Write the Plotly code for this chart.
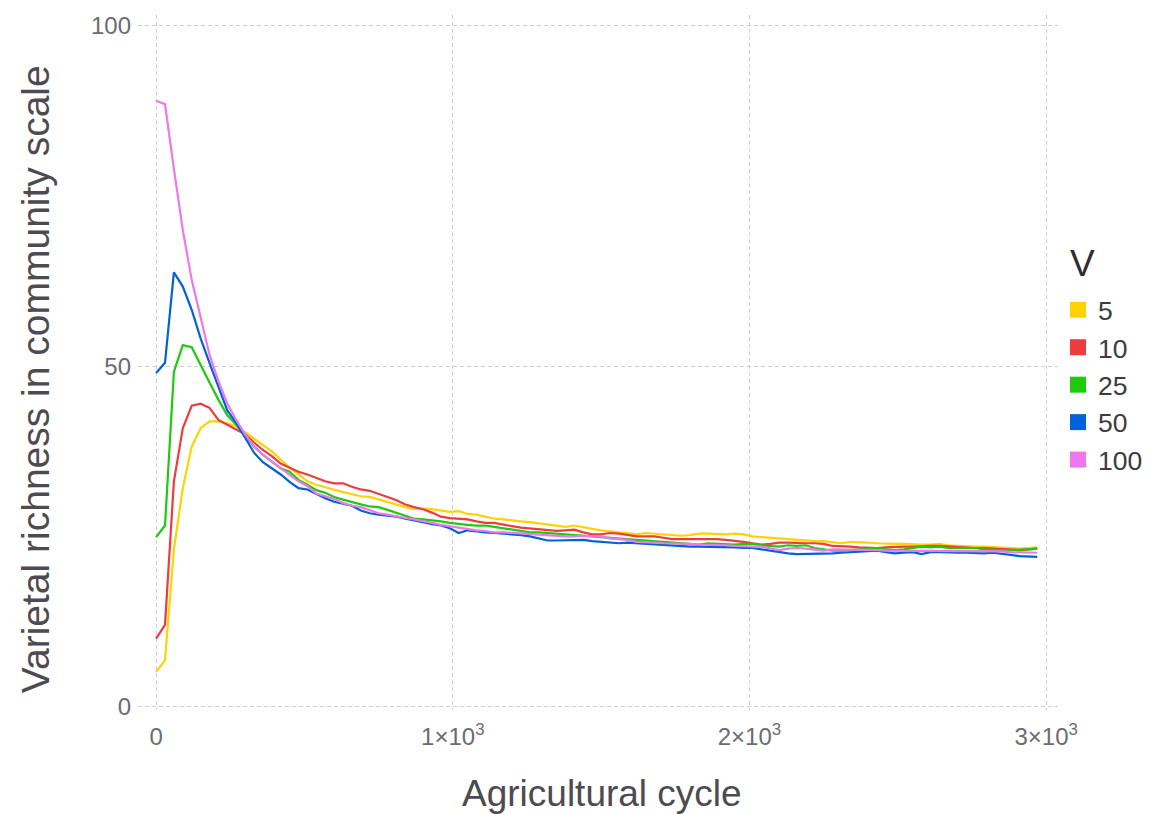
import plotly.graph_objects as go

cycles = [30 * i for i in range(100)]

v_labels = ["5", "10", "25", "50", "100"]

rich_v5 = [5.1, 6.8, 23.1, 32.1, 38.2, 40.9, 41.9, 41.9, 41.6,
           41.2, 40.3, 39.4, 38.5, 37.5, 36.3, 35.1, 34.1, 33.1, 32.6, 32.2, 31.9, 31.5, 31.2, 30.9, 30.8, 30.4, 30.0, 29.7, 29.3, 29.0, 29.1,
           29.0, 28.8, 28.6, 28.7, 28.3, 28.2, 27.9, 27.6, 27.5, 27.3, 27.2, 27.1, 26.9, 26.7, 26.5, 26.4, 26.6, 26.3, 26.1, 25.9, 25.7, 25.6, 25.5,
           25.3, 25.5, 25.4, 25.3, 25.2, 25.1, 25.2, 25.4, 25.4, 25.3, 25.3, 25.4, 25.3, 25.0, 24.9, 24.8, 24.6, 24.6, 24.5, 24.4, 24.3, 24.3,
           24.1, 24.0, 24.2, 24.2, 24.1, 24.0, 23.9, 23.9, 23.9, 23.8, 23.8, 23.8, 23.9, 23.7, 23.6, 23.6, 23.5, 23.5, 23.4, 23.4, 23.3, 23.2, 23.3, 23.4]

rich_v10 = [10.0, 12.0, 33.1, 40.9, 44.2, 44.5, 43.9, 42.1, 41.4,
            40.7, 40.0, 38.8, 37.7, 36.8, 35.7, 35.1, 34.5, 34.1, 33.6, 33.1, 32.8, 32.8, 32.3, 31.9, 31.7, 31.3, 30.8, 30.3, 29.7, 29.3, 29.0,
            28.5, 27.9, 27.7, 27.6, 27.5, 27.2, 27.0, 27.0, 26.7, 26.5, 26.3, 26.2, 26.0, 25.9, 25.8, 25.9, 26.0, 25.6, 25.3, 25.3, 25.5, 25.4, 25.2,
            25.0, 25.0, 25.0, 24.8, 24.6, 24.6, 24.6, 24.6, 24.7, 24.6, 24.5, 24.4, 24.2, 24.0, 23.8, 23.9, 24.1, 24.1, 24.0, 24.0, 24.0, 23.9,
            23.6, 23.6, 23.5, 23.4, 23.3, 23.3, 23.4, 23.5, 23.5, 23.5, 23.6, 23.6, 23.6, 23.5, 23.4, 23.4, 23.3, 23.3, 23.2, 23.2, 23.1, 23.0, 23.1, 23.2]

rich_v25 = [24.9, 26.6, 49.2, 53.1, 52.8, 50.1, 47.6, 45.1, 42.8,
            41.4, 39.7, 38.2, 37.0, 36.0, 35.0, 34.5, 33.3, 32.6, 31.8, 31.4, 30.8, 30.4, 30.0, 29.7, 29.4, 29.3, 28.9, 28.5, 28.0, 27.6, 27.5,
            27.4, 27.2, 27.0, 26.8, 26.7, 26.6, 26.6, 26.4, 26.2, 26.0, 25.8, 25.6, 25.6, 25.5, 25.4, 25.3, 25.3, 25.2, 25.1, 25.0, 24.8, 24.7, 24.6,
            24.6, 24.5, 24.4, 24.3, 24.2, 24.1, 24.0, 23.8, 24.0, 23.9, 23.9, 23.8, 23.9, 23.9, 23.7, 23.6, 23.5, 23.7, 23.6, 23.7, 23.3, 23.1,
            22.9, 22.9, 23.0, 23.1, 23.1, 23.3, 23.1, 23.0, 23.1, 23.3, 23.5, 23.4, 23.5, 23.3, 23.3, 23.3, 23.3, 23.1, 23.0, 23.0, 23.0, 23.0, 23.1, 23.2]

rich_v50 = [49.0, 50.5, 63.8, 61.7, 58.3, 54.1, 50.5, 47.0, 43.5,
            41.7, 39.5, 37.3, 35.9, 35.0, 34.1, 33.0, 32.1, 31.9, 31.2, 30.6, 30.1, 29.8, 29.5, 28.8, 28.4, 28.2, 28.1, 27.9, 27.6, 27.4, 27.1,
            26.8, 26.6, 26.2, 25.5, 25.9, 25.7, 25.6, 25.5, 25.4, 25.4, 25.2, 25.0, 24.7, 24.4, 24.4, 24.4, 24.5, 24.5, 24.3, 24.2, 24.0, 24.0, 24.1,
            24.0, 23.9, 23.9, 23.8, 23.7, 23.6, 23.5, 23.5, 23.5, 23.5, 23.5, 23.4, 23.3, 23.3, 23.1, 22.9, 22.6, 22.5, 22.4, 22.4, 22.4, 22.4,
            22.5, 22.6, 22.7, 22.8, 22.8, 22.9, 22.7, 22.5, 22.6, 22.7, 22.4, 22.7, 22.7, 22.6, 22.6, 22.6, 22.5, 22.5, 22.6, 22.5, 22.3, 22.1, 22.0, 22.0]

rich_v100 = [89.0, 88.5, 79.0, 70.0, 62.7, 57.3, 51.7, 47.8, 44.5,
             42.1, 40.0, 38.2, 37.0, 36.0, 35.0, 34.1, 33.1, 32.4, 31.3, 30.9, 30.5, 29.9, 29.5, 29.3, 28.9, 28.4, 28.2, 27.9, 27.7, 27.5, 27.3,
             27.0, 26.7, 26.5, 26.3, 26.0, 25.9, 25.8, 25.6, 25.6, 25.5, 25.5, 25.4, 25.3, 25.2, 25.1, 25.0, 25.0, 25.1, 25.0, 25.0, 24.7, 24.6, 24.5,
             24.2, 24.2, 24.1, 24.0, 24.0, 23.9, 23.9, 23.8, 23.8, 23.7, 23.7, 23.6, 23.5, 23.5, 23.5, 23.3, 23.0, 23.2, 23.3, 23.2, 23.1, 22.9,
             23.1, 23.1, 23.0, 23.0, 23.0, 23.0, 22.9, 22.9, 22.8, 22.9, 22.9, 22.9, 22.9, 22.9, 22.9, 22.9, 22.9, 22.8, 22.8, 22.8, 22.7, 22.7, 22.6, 22.6]

series = [rich_v5, rich_v10, rich_v25, rich_v50, rich_v100]
colors = ["#FFD300", "#EE3B3B", "#1ECB0C", "#0062D9", "#EE77EE"]

x_tickvals = [0, 1000, 2000, 3000]
x_ticktext = ["0", "1×10<sup>3</sup>", "2×10<sup>3</sup>", "3×10<sup>3</sup>"]
y_tickvals = [0, 50, 100]

fig = go.Figure()

for lab, ys, col in zip(v_labels, series, colors):
    fig.add_trace(go.Scatter(x=cycles, y=ys, mode="lines", name=lab,
                             line=dict(color=col, width=2.2), showlegend=False,
                             legendgroup=lab))

# legend entries drawn as squares
for lab, col in zip(v_labels, colors):
    fig.add_trace(go.Scatter(x=[None], y=[None], mode="markers", name=lab,
                             marker=dict(symbol="square", color=col, size=16),
                             legendgroup=lab, showlegend=True))

grid = dict(showgrid=True, gridcolor="#cfcfd8", gridwidth=1, griddash="4px,3px",
            zeroline=False, showline=False, ticks="", automargin=False)

fig.update_layout(
    width=1164, height=814,
    margin=dict(l=138, r=106, t=15, b=104),
    plot_bgcolor="white", paper_bgcolor="white",
    font=dict(family="Liberation Sans, Arial, sans-serif", color="#4d4a52"),
    xaxis=dict(range=[-61, 3040], tickvals=x_tickvals, ticktext=x_ticktext,
               tickfont=dict(size=24, color="#6e6a72"), ticklabelstandoff=10,
               **grid),
    yaxis=dict(range=[-0.5, 101.6], tickvals=y_tickvals,
               tickfont=dict(size=24, color="#6e6a72"), ticklabelstandoff=6,
               **grid),
    legend=dict(font=dict(size=26.5, color="#3d3a42"),
                x=1.0, xanchor="left", y=0.610, yanchor="top",
                itemsizing="trace", tracegroupgap=0,
                bgcolor="rgba(0,0,0,0)"),
    annotations=[
        dict(text="Varietal richness in community scale", textangle=-90,
             xref="paper", yref="paper", x=-0.112, y=0.476,
             xanchor="center", yanchor="middle", showarrow=False,
             font=dict(size=39, color="#4d4a52")),
        dict(text="Agricultural cycle",
             xref="paper", yref="paper", x=0.504, y=-0.120,
             xanchor="center", yanchor="middle", showarrow=False,
             font=dict(size=37, color="#4d4a52")),
        dict(text="V",
             xref="paper", yref="paper", x=1.011, y=0.642,
             xanchor="left", yanchor="middle", showarrow=False,
             font=dict(size=37, color="#2f2c33")),
    ],
)

fig.write_html("out.html")
